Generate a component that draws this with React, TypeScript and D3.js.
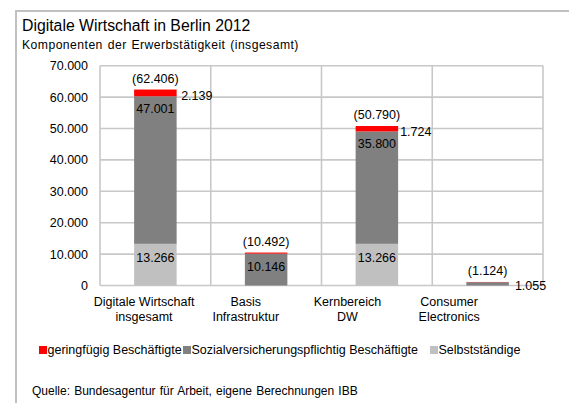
import React from "react";
import * as d3 from "d3";

const categories = [["Digitale Wirtschaft", "insgesamt"], ["Basis", "Infrastruktur"], ["Kernbereich", "DW"], ["Consumer", "Electronics"]];
const selbst = [13266, 0, 13266, 0];
const sozial = [47001, 10146, 35800, 1055];
const gering = [2139, 346, 1724, 69];
const totals = [62406, 10492, 50790, 1124];
const showSelbstLabel = [true, false, true, false];
const showSozialInside = [true, true, true, false];
const showGeringLabel = [true, false, true, false];
const yTicks = [0, 10000, 20000, 30000, 40000, 50000, 60000, 70000];
const seriesNames = ["geringfügig Beschäftigte", "Sozialversicherungspflichtig Beschäftigte", "Selbstständige"];
const seriesColors = ["#ff0000", "#808080", "#c0c0c0"];

const fmt = (v: number) => d3.format(",")(v).replace(/,/g, ".");

export default function App() {
  const W = 569, H = 403;
  const left = 100, right = 543, top = 65.7, bottom = 285.5;
  const x = d3.scaleBand<number>().domain(d3.range(categories.length)).range([left, right]).paddingInner(0).paddingOuter(0);
  const xl = d3.scaleBand<number>().domain(d3.range(categories.length)).range([93.2, 500]);
  const y = d3.scaleLinear().domain([0, 70000]).range([bottom, top]);
  const bw = 42.5;
  const font = "Liberation Sans, Arial, sans-serif";
  const grid = "#c8c8c8";
  const gx = [4.5, 0, 2, 0];
  return (
    <svg width={W} height={H} style={{ position: "absolute", left: 0, top: 0 }} fontFamily={font}>
      <rect x={0} y={0} width={W} height={H} fill="#fff" />
      <line x1={16} y1={10} x2={16} y2={H} stroke="#c0c0c0" strokeWidth={2} />
      <line x1={15} y1={11} x2={569} y2={11} stroke="#c0c0c0" strokeWidth={2} />
      <text x={22} y={31} fontSize={15.8} fill="#000">Digitale Wirtschaft in Berlin 2012</text>
      <text x={22} y={49} fontSize={12.2} fill="#000" letterSpacing={0.45} wordSpacing={1}>Komponenten der Erwerbstätigkeit (insgesamt)</text>
      {yTicks.map((t) => (
        <g key={t}>
          <line x1={left} x2={right} y1={y(t)} y2={y(t)} stroke={grid} strokeWidth={1.6} />
          <text x={88} y={y(t) + 4.5} fontSize={12.5} textAnchor="end" fill="#000">{fmt(t)}</text>
        </g>
      ))}
      {d3.range(categories.length + 1).map((i) => {
        const xx = i < categories.length ? (x(i) as number) : right;
        return <line key={i} x1={xx} x2={xx} y1={top} y2={bottom} stroke={grid} strokeWidth={1.6} />;
      })}
      {categories.map((c, i) => {
        const cx = (x(i) as number) + x.bandwidth() / 2;
        const lx = (xl(i) as number) + xl.bandwidth() / 2;
        const x0 = cx - bw / 2;
        const s0 = 0, s1 = selbst[i], s2 = s1 + sozial[i], s3 = s2 + gering[i];
        return (
          <g key={i}>
            <rect x={x0} width={bw} y={y(s1)} height={y(s0) - y(s1)} fill={seriesColors[2]} />
            <rect x={x0} width={bw} y={y(s2)} height={y(s1) - y(s2)} fill={seriesColors[1]} />
            <rect x={x0} width={bw} y={y(s3)} height={y(s2) - y(s3)} fill={seriesColors[0]} />
            {showSelbstLabel[i] && (
              <text x={cx} y={y(s1) + 18} fontSize={12.5} textAnchor="middle" fill="#000">{fmt(selbst[i])}</text>
            )}
            {showSozialInside[i] ? (
              <text x={cx} y={y(s2) + 17} fontSize={12.5} textAnchor="middle" fill="#000">{fmt(sozial[i])}</text>
            ) : (
              <text x={x0 + bw + 6} y={y(s1) + 4} fontSize={12.5} fill="#000">{fmt(sozial[i])}</text>
            )}
            {showGeringLabel[i] && (
              <text x={x0 + bw + gx[i]} y={y(s3) + 10} fontSize={12.5} fill="#000">{fmt(gering[i])}</text>
            )}
            <text x={cx} y={y(totals[i]) - 7} fontSize={12.5} textAnchor="middle" fill="#000">({fmt(totals[i])})</text>
            <text x={lx} y={305.5} fontSize={12.5} textAnchor="middle" fill="#000">{c[0]}</text>
            <text x={lx} y={320.5} fontSize={12.5} textAnchor="middle" fill="#000">{c[1]}</text>
          </g>
        );
      })}
      {(() => {
        const starts = [39, 183, 430];
        return seriesNames.map((n, i) => (
          <g key={n}>
            <rect x={starts[i]} y={346} width={8} height={8} fill={seriesColors[i]} />
            <text x={starts[i] + 8.5} y={354} fontSize={12.5} fill="#000">{n}</text>
          </g>
        ));
      })()}
      <text x={32} y={395} fontSize={12} fill="#000" wordSpacing={0.8}>Quelle: Bundesagentur für Arbeit, eigene Berechnungen  IBB</text>
    </svg>
  );
}
